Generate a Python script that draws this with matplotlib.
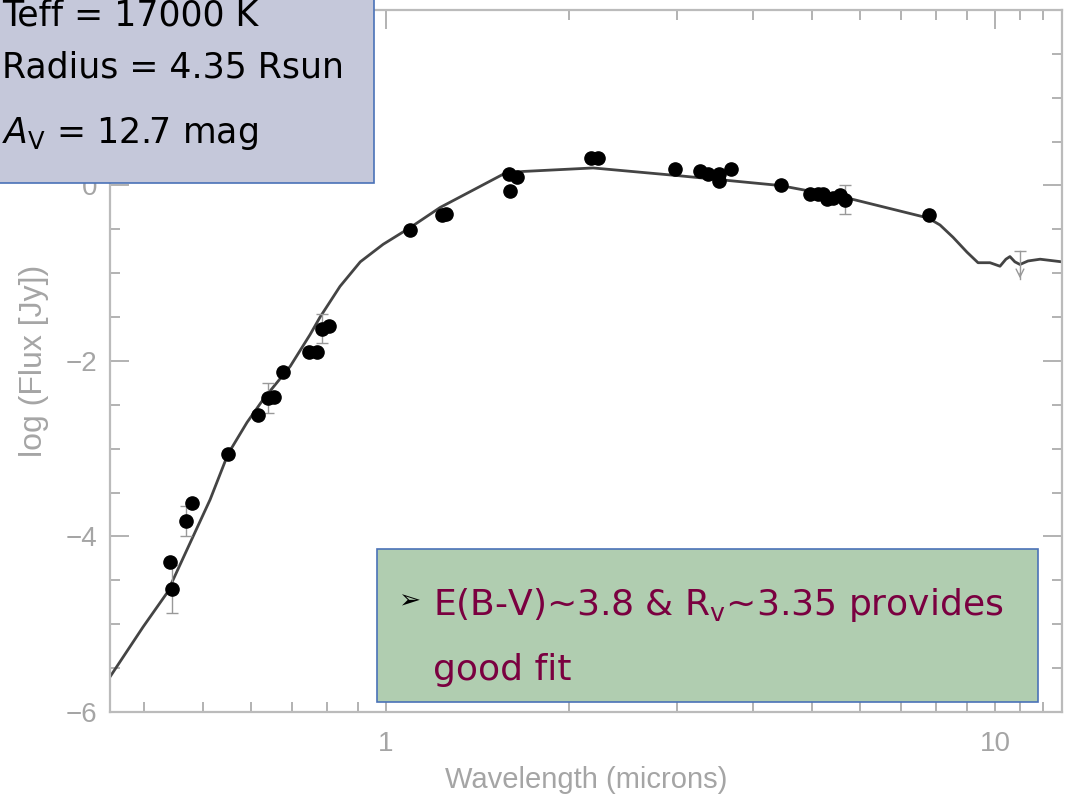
import matplotlib
matplotlib.use("Agg")
import matplotlib.pyplot as plt
from matplotlib.patches import Rectangle
from matplotlib.ticker import FixedLocator, MultipleLocator, NullFormatter, FixedFormatter

plt.rcParams["mathtext.fontset"] = "dejavusans"

# model SED: wavelength (microns) vs log flux (Jy)
model_wave = [0.352, 0.399, 0.437, 0.471, 0.514, 0.550, 0.591, 0.628, 0.696,
              0.750, 0.779, 0.840, 0.907, 0.989, 1.095, 1.227, 1.427, 1.568,
              1.679, 2.188, 3.040, 4.436, 5.779, 7.762, 8.122, 8.532, 8.995,
              9.378, 9.813, 10.19, 10.42, 10.58, 10.78, 10.99, 11.33, 11.86,
              12.88]
model_flux = [-5.60, -5.03, -4.64, -4.15, -3.58, -3.06, -2.70, -2.44, -2.06,
              -1.70, -1.50, -1.15, -0.87, -0.67, -0.48, -0.25, -0.01, 0.14,
              0.16, 0.20, 0.11, 0.00, -0.15, -0.37, -0.45, -0.59, -0.76,
              -0.88, -0.88, -0.92, -0.84, -0.81, -0.87, -0.90, -0.86, -0.84,
              -0.87]

# photometry
phot_wave = [0.442, 0.445, 0.470, 0.480, 0.550, 0.616, 0.640, 0.655, 0.678,
             0.747, 0.770, 0.785, 0.806, 1.095, 1.236, 1.254, 1.592, 1.598,
             1.641, 2.171, 2.229, 2.982, 3.279, 3.379, 3.523, 3.523, 3.686,
             4.453, 4.969, 5.122, 5.220, 5.299, 5.420, 5.566, 5.672, 7.791]
phot_flux = [-4.29, -4.60, -3.82, -3.62, -3.06, -2.62, -2.42, -2.41, -2.12,
             -1.90, -1.90, -1.63, -1.60, -0.51, -0.34, -0.32, 0.13, -0.06,
             0.10, 0.31, 0.31, 0.19, 0.16, 0.13, 0.13, 0.05, 0.19,
             0.01, -0.10, -0.10, -0.10, -0.15, -0.14, -0.11, -0.16, -0.34]
phot_err = [0, 0.27, 0.17, 0, 0, 0, 0.17, 0, 0,
            0, 0, 0.17, 0, 0, 0, 0, 0, 0,
            0, 0, 0, 0, 0, 0, 0, 0, 0,
            0, 0, 0, 0, 0, 0, 0, 0.17, 0]

# upper limit near 11 microns
lim_wave = 10.99
lim_top = -0.75
lim_tip = -1.09

grey = "#a5a5a5"
label_font = "Liberation Sans"
box_font = "DejaVu Sans"

fig = plt.figure(figsize=(10.73, 7.94), dpi=100)
ax = fig.add_axes([0.1025, 0.1033, 0.8872, 0.8841])

ax.plot(model_wave, model_flux, color="#444444", lw=2.0, zorder=2)
ax.errorbar(phot_wave, phot_flux, yerr=phot_err, fmt="o", color="black",
            ms=9.5, ecolor="#999999", elinewidth=1.0, capsize=4, zorder=3)
ax.plot([lim_wave, lim_wave], [lim_top, lim_tip + 0.02], color="#999999", lw=1.0)
ax.plot([lim_wave], [lim_top], marker="_", ms=9, color="#999999", mew=1.0)
ax.annotate("", xy=(lim_wave, lim_tip), xytext=(lim_wave, lim_tip + 0.12),
            arrowprops=dict(arrowstyle="->", color="#999999", lw=1.0,
                            mutation_scale=14))

ax.set_xscale("log")
ax.set_xlim(0.352, 12.88)
ax.set_ylim(-6, 2)

ax.xaxis.set_major_locator(FixedLocator([1, 10]))
ax.xaxis.set_major_formatter(FixedFormatter(["1", "10"]))
ax.xaxis.set_minor_locator(FixedLocator([0.4, 0.5, 0.6, 0.7, 0.8, 0.9,
                                         2, 3, 4, 5, 6, 7, 8, 9, 11, 12]))
ax.xaxis.set_minor_formatter(NullFormatter())
ax.yaxis.set_major_locator(FixedLocator([-6, -4, -2, 0, 2]))
ax.yaxis.set_major_formatter(FixedFormatter(["\u22126", "\u22124", "\u22122", "0", ""]))
ax.yaxis.set_minor_locator(MultipleLocator(0.5))

ax.tick_params(which="both", direction="in", top=True, right=True,
               color=grey, width=1.2, labelcolor=grey, labelsize=20)
ax.tick_params(which="major", length=14)
ax.tick_params(which="minor", length=7)
ax.tick_params(axis="x", which="major", pad=14)
ax.tick_params(axis="y", which="major", pad=9)
for lab in ax.get_xticklabels() + ax.get_yticklabels():
    lab.set_fontfamily(label_font)
for sp in ax.spines.values():
    sp.set_color("#bbbbbb")
    sp.set_linewidth(1.6)

ax.set_xlabel("Wavelength (microns)", fontsize=21, color=grey,
              family=label_font, labelpad=6)
ax.set_ylabel("log (Flux [Jy])", fontsize=23, color=grey,
              family=label_font, labelpad=12)

# parameter box, top left
fig.add_artist(Rectangle((-0.01, 1 - 183 / 794), 374 / 1073 + 0.01, 183 / 794 + 0.01,
                         transform=fig.transFigure, facecolor="#c5c8da",
                         edgecolor="#4a72b8", lw=1.2, zorder=5))
fig.text(2 / 1073, 1 - 25 / 794, "Teff = 17000 K", fontsize=25, family=box_font,
         color="black", zorder=6)
fig.text(2 / 1073, 1 - 78 / 794, "Radius = 4.35 Rsun", fontsize=25,
         family=box_font, color="black", zorder=6)
fig.text(2 / 1073, 1 - 143 / 794, r"$A_\mathrm{V}$ = 12.7 mag", fontsize=25,
         family=box_font, color="black", zorder=6)

# fit comment box, bottom right
fig.add_artist(Rectangle((377 / 1073, 1 - 702 / 794), 661 / 1073, 153 / 794,
                         transform=fig.transFigure, facecolor="#b0cdb0",
                         edgecolor="#4a72b8", lw=1.2, zorder=5))
fig.text(398 / 1073, 1 - 608 / 794, "\u27a2", fontsize=19,
         family="DejaVu Sans", color="black", zorder=6)
fig.text(433 / 1073, 1 - 615 / 794, r"E(B-V)~3.8 & R$_\mathrm{v}$~3.35 provides",
         fontsize=26, family=box_font, color="#7a0040", zorder=6)
fig.text(433 / 1073, 1 - 680 / 794, "good fit", fontsize=26, family=box_font,
         color="#7a0040", zorder=6)

fig.savefig("out.png", dpi=100)
